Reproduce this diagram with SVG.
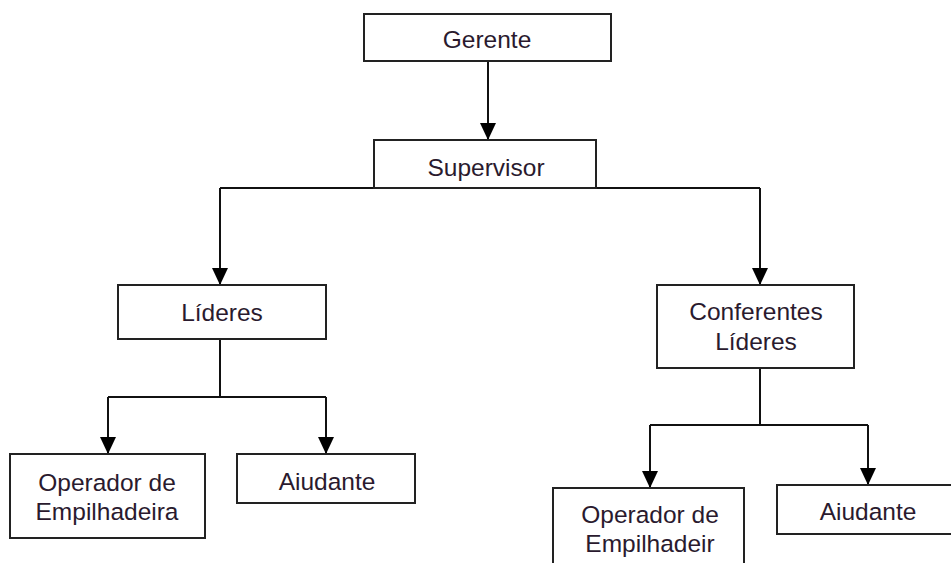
<svg xmlns="http://www.w3.org/2000/svg" width="951" height="563" viewBox="0 0 951 563">
  <style>
    .box { fill: #ffffff; stroke: #222222; stroke-width: 2; }
    .lbl { font-family: "Liberation Sans", Arial, sans-serif; font-size: 24.5px; fill: #2a1a2e; text-anchor: middle; }
    .conn { fill: none; stroke: #111111; stroke-width: 2; }
  </style>
  <defs>
    <marker id="arr" markerUnits="userSpaceOnUse" markerWidth="17" markerHeight="16" refX="17" refY="8" orient="auto">
      <path d="M0,0 L17,8 L0,16 z" fill="#000000"/>
    </marker>
  </defs>
  <rect width="951" height="563" fill="#ffffff"/>

  <g id="connectors">
    <line class="conn" x1="488" y1="61" x2="488" y2="140" marker-end="url(#arr)"/>
    <path class="conn" d="M220,188 L760,188"/>
    <line class="conn" x1="220" y1="188" x2="220" y2="285" marker-end="url(#arr)"/>
    <line class="conn" x1="760" y1="188" x2="760" y2="285" marker-end="url(#arr)"/>
    <path class="conn" d="M220,339 L220,397 M108,397 L326,397"/>
    <line class="conn" x1="108" y1="397" x2="108" y2="454" marker-end="url(#arr)"/>
    <line class="conn" x1="326" y1="397" x2="326" y2="454" marker-end="url(#arr)"/>
    <path class="conn" d="M760,368 L760,425 M650,425 L868,425"/>
    <line class="conn" x1="650" y1="425" x2="650" y2="488" marker-end="url(#arr)"/>
    <line class="conn" x1="868" y1="425" x2="868" y2="485" marker-end="url(#arr)"/>
  </g>

  <g id="gerente">
    <rect class="box" x="364" y="14" width="247" height="47"/>
    <text class="lbl" x="487" y="48">Gerente</text>
  </g>
  <g id="supervisor">
    <rect class="box" x="374" y="140" width="222" height="48"/>
    <text class="lbl" x="486" y="176">Supervisor</text>
  </g>
  <g id="lideres">
    <rect class="box" x="118" y="285" width="208" height="54"/>
    <text class="lbl" x="222" y="321">Líderes</text>
  </g>
  <g id="conferentes">
    <rect class="box" x="657" y="285" width="197" height="83"/>
    <text class="lbl" x="756" y="320">Conferentes</text>
    <text class="lbl" x="756" y="350">Líderes</text>
  </g>
  <g id="operador-left">
    <rect class="box" x="10" y="454" width="195" height="84"/>
    <text class="lbl" x="107" y="491">Operador de</text>
    <text class="lbl" x="107" y="520">Empilhadeira</text>
  </g>
  <g id="aiudante-left">
    <rect class="box" x="237" y="454" width="178" height="49"/>
    <text class="lbl" x="327" y="490">Aiudante</text>
  </g>
  <g id="operador-right">
    <rect class="box" x="553" y="488" width="191" height="90"/>
    <text class="lbl" x="650" y="523">Operador de</text>
    <text class="lbl" x="650" y="552">Empilhadeir</text>
  </g>
  <g id="aiudante-right">
    <rect class="box" x="777" y="485" width="180" height="49"/>
    <text class="lbl" x="868" y="520">Aiudante</text>
  </g>
</svg>
